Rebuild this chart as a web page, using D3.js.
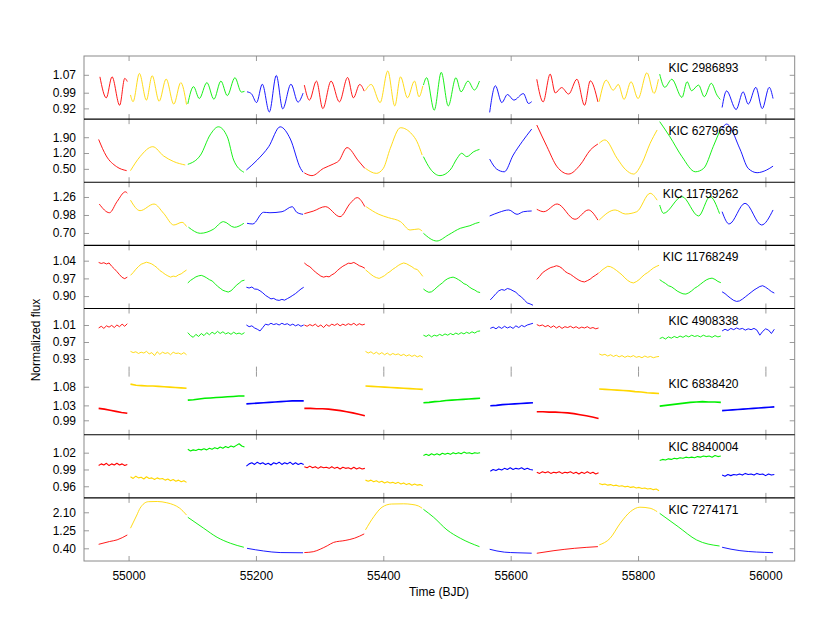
<!DOCTYPE html>
<html>
<head>
<meta charset="utf-8">
<script src="https://cdn.jsdelivr.net/npm/d3@7"></script>
<style>
  body { margin: 0; background: #fff; }
  text { font-family: "Liberation Sans", Arial, sans-serif; }
</style>
</head>
<body>
<svg id="chart" width="830" height="633"></svg>
<script>
// Kepler quarters (BJD - 2400000) and the colour used for each
var quarters = [[54953,54998],[55003,55091],[55093,55182],[55185,55275],[55276,55371],[55372,55462],
                [55463,55552],[55568,55635],[55641,55738],[55739,55833],[55834,55930],[55932,56014]];
var quarterColors = ["#ff0000","#ffd700","#00ee00","#0000ff"];

var xTicks = [55000,55200,55400,55600,55800,56000];

var starNames = ["KIC 2986893","KIC 6279696","KIC 11759262","KIC 11768249",
                 "KIC 4908338","KIC 6838420","KIC 8840004","KIC 7274171"];
var yDomains = [[0.872,1.154],[-0.093,2.70],[0.507,1.489],[0.851,1.1005],
                [0.9003,1.0488],[0.9513,1.1205],[0.9393,1.052],[-0.198,2.78]];
var yTicks = [[1.07,0.99,0.92],[1.90,1.20,0.50],[1.26,0.98,0.70],[1.04,0.97,0.90],
              [1.01,0.97,0.93],[1.08,1.03,0.99],[1.02,0.99,0.96],[2.10,1.25,0.40]];

// smooth stars: [time, flux] read at the turning points, one list per quarter
var kic2986893 = [
  [[54955,1.061],[54965,0.967],[54974,1.061],[54986,0.934],[54994,1.054],[54998,1.04]],
  [[55003,0.98],[55007,0.95],[55017,1.076],[55028,0.957],[55037,1.066],[55048,0.952],[55059,1.051],[55071,0.939],[55082,1.035],[55091,0.937]],
  [[55093,0.94],[55102,1.017],[55111,0.964],[55123,1.035],[55134,0.961],[55145,1.042],[55155,0.977],[55167,1.057],[55177,0.993],[55182,0.996]],
  [[55186,0.994],[55193,0.985],[55201,0.946],[55210,1.028],[55221,0.904],[55232,1.067],[55242,0.918],[55255,1.028],[55266,0.948],[55274,0.988]],
  [[55276,1.024],[55284,0.957],[55295,1.042],[55305,0.919],[55318,1.042],[55331,0.949],[55344,1.058],[55353,0.967],[55363,1.027],[55370,0.997]],
  [[55372,1.0],[55381,1.027],[55395,0.946],[55407,1.087],[55418,0.931],[55427,1.061],[55438,0.967],[55449,1.042],[55456,0.972],[55462,1.02]],
  [[55463,1.024],[55468,1.057],[55480,0.912],[55491,1.081],[55502,0.931],[55514,1.057],[55522,0.994],[55533,1.042],[55543,1.002],[55551,1.042]],
  [[55567,0.902],[55576,1.021],[55586,0.946],[55595,0.982],[55605,0.957],[55620,0.986],[55628,0.942],[55633,0.95]],
  [[55641,1.05],[55651,0.949],[55662,1.073],[55670,0.989],[55680,1.013],[55691,0.984],[55704,1.05],[55716,0.934],[55725,1.043],[55737,0.949]],
  [[55739,0.95],[55750,1.046],[55761,1.001],[55769,1.027],[55778,0.96],[55789,1.039],[55800,0.964],[55814,1.079],[55825,0.987],[55832,1.05]],
  [[55834,1.073],[55842,1.014],[55853,1.05],[55869,0.969],[55877,1.039],[55884,0.999],[55895,1.024],[55904,0.972],[55915,1.032],[55924,0.979],[55929,0.96]],
  [[55932,0.924],[55939,0.998],[55954,0.915],[55965,0.994],[55973,0.939],[55985,1.014],[55995,0.919],[56006,1.014],[56012,0.964]]
];
var kic6279696 = [
  [[54953,1.80],[54965,1.07],[54981,0.60],[54997,0.42]],
  [[55003,0.42],[55018,1.04],[55038,1.48],[55055,1.07],[55071,0.82],[55089,0.67]],
  [[55093,0.70],[55113,1.11],[55128,2.0],[55141,2.36],[55155,1.92],[55165,0.89],[55181,0.35]],
  [[55185,0.45],[55202,0.89],[55220,1.48],[55238,2.36],[55254,1.82],[55270,0.52],[55274,0.35]],
  [[55276,0.32],[55288,0.20],[55306,0.52],[55322,0.72],[55330,0.85],[55343,1.44],[55361,0.85],[55371,0.52]],
  [[55372,0.52],[55389,0.30],[55400,0.52],[55411,1.41],[55427,2.32],[55445,2.03],[55453,1.70],[55461,1.11]],
  [[55463,1.04],[55474,0.49],[55489,0.20],[55505,0.45],[55516,0.97],[55523,1.19],[55531,1.04],[55542,1.26],[55551,1.36]],
  [[55567,0.93],[55578,0.49],[55590,0.37],[55604,1.11],[55618,1.70],[55633,2.26]],
  [[55641,2.44],[55657,1.48],[55673,0.59],[55691,0.27],[55709,0.67],[55725,1.33],[55737,1.60]],
  [[55739,1.63],[55748,1.78],[55767,0.97],[55780,0.48],[55793,0.27],[55806,0.74],[55819,1.63],[55830,2.22]],
  [[55834,2.59],[55850,1.92],[55869,1.04],[55890,0.37],[55903,0.52],[55918,1.48],[55929,2.22]],
  [[55932,2.29],[55939,2.48],[55960,1.38],[55973,0.52],[55987,0.33],[56002,0.45],[56012,0.62]]
];
var kic11759262 = [
  [[54954,1.15],[54970,1.015],[54982,1.19],[54995,1.34],[54998,1.32]],
  [[55003,1.21],[55018,1.047],[55040,1.15],[55055,1.006],[55071,0.824],[55084,0.866],[55091,0.80]],
  [[55094,0.79],[55113,0.695],[55133,0.757],[55149,0.876],[55166,0.788],[55181,0.85]],
  [[55186,0.85],[55195,0.84],[55212,1.022],[55222,1.015],[55241,1.031],[55257,1.109],[55264,1.022],[55274,0.99]],
  [[55276,1.0],[55290,1.04],[55309,1.11],[55332,0.953],[55348,1.16],[55359,1.25],[55371,1.11]],
  [[55373,1.109],[55393,0.99],[55408,0.938],[55427,0.876],[55442,0.746],[55455,0.762],[55461,0.73]],
  [[55463,0.695],[55484,0.575],[55502,0.669],[55521,0.773],[55536,0.813],[55545,0.85],[55551,0.866]],
  [[55567,0.964],[55582,1.022],[55597,1.058],[55610,0.99],[55620,1.031],[55633,1.042]],
  [[55641,1.068],[55652,1.031],[55673,1.151],[55701,0.913],[55722,1.058],[55737,0.90]],
  [[55739,0.90],[55764,1.058],[55780,0.995],[55798,1.031],[55819,1.317],[55830,1.21]],
  [[55834,1.135],[55840,1.006],[55869,1.265],[55895,0.964],[55913,1.265],[55928,1.0]],
  [[55932,1.031],[55943,0.84],[55968,1.162],[55994,0.824],[56012,1.058]]
];
var kic7274171 = [
  [[54953,0.59],[54970,0.72],[54982,0.80],[54998,1.03]],
  [[55003,1.35],[55013,1.97],[55018,2.29],[55031,2.60],[55045,2.61],[55060,2.55],[55071,2.45],[55080,2.30],[55091,1.97]],
  [[55093,1.865],[55118,1.346],[55139,0.92],[55160,0.638],[55181,0.45]],
  [[55186,0.40],[55212,0.275],[55238,0.20],[55274,0.19]],
  [[55276,0.20],[55290,0.24],[55301,0.36],[55312,0.52],[55322,0.68],[55340,0.77],[55355,0.88],[55370,1.08]],
  [[55372,1.27],[55385,1.89],[55398,2.34],[55413,2.49],[55432,2.50],[55445,2.47],[55455,2.40],[55461,2.29]],
  [[55463,2.24],[55479,1.865],[55500,1.27],[55521,0.874],[55551,0.478]],
  [[55567,0.355],[55590,0.22],[55610,0.19],[55633,0.17]],
  [[55641,0.167],[55668,0.29],[55700,0.40],[55737,0.48]],
  [[55739,0.56],[55756,0.87],[55772,1.58],[55788,2.13],[55803,2.34],[55819,2.29],[55830,2.13]],
  [[55834,2.05],[55863,1.42],[55892,0.794],[55928,0.51]],
  [[55932,0.45],[55960,0.29],[56012,0.195]]
];

// noisy stars: flux read at even steps across each quarter
var kic11768249 = [
  [1.033,1.029,1.032,1.027,1.031,1.018,1.008,0.997,0.985,0.974,0.969,0.975],
  [0.982,0.993,1.006,1.017,1.026,1.030,1.034,1.031,1.027,1.020,1.012,1.001,0.994,0.986,0.980,0.975,0.979,0.977,0.984,0.988,0.996,1.003],
  [0.952,0.962,0.969,0.976,0.980,0.982,0.978,0.972,0.965,0.960,0.950,0.939,0.931,0.923,0.919,0.916,0.921,0.931,0.943,0.951,0.960,0.963],
  [0.935,0.932,0.936,0.928,0.927,0.921,0.913,0.903,0.896,0.889,0.891,0.885,0.883,0.887,0.884,0.890,0.896,0.903,0.910,0.919,0.928,0.935],
  [1.031,1.022,1.016,1.006,0.995,0.987,0.979,0.975,0.978,0.976,0.984,0.990,1.001,1.010,1.018,1.024,1.030,1.029,1.033,1.027,1.020,1.016,1.010],
  [1.004,0.995,0.986,0.978,0.973,0.970,0.975,0.981,0.990,0.997,1.006,1.013,1.021,1.027,1.031,1.028,1.022,1.016,1.008,1.005,0.992,0.978],
  [0.928,0.920,0.915,0.917,0.925,0.935,0.944,0.952,0.962,0.969,0.973,0.975,0.971,0.965,0.958,0.949,0.945,0.936,0.929,0.924,0.917,0.914],
  [0.885,0.897,0.910,0.921,0.926,0.923,0.930,0.927,0.921,0.915,0.904,0.896,0.884,0.873,0.869,0.864],
  [0.966,0.978,0.992,1.000,1.007,1.013,1.016,1.020,1.017,1.010,0.998,0.991,0.986,0.978,0.970,0.963,0.958,0.956,0.961,0.967,0.976,0.983,0.991],
  [0.992,1.003,1.011,1.018,1.016,1.010,1.002,0.993,0.984,0.972,0.962,0.955,0.952,0.957,0.965,0.976,0.986,0.993,1.002,1.011,1.017,1.022],
  [0.965,0.957,0.950,0.941,0.937,0.929,0.920,0.914,0.909,0.908,0.913,0.921,0.931,0.938,0.947,0.956,0.964,0.969,0.971,0.966,0.958,0.953],
  [0.917,0.910,0.900,0.891,0.883,0.879,0.881,0.888,0.897,0.906,0.915,0.924,0.931,0.938,0.941,0.935,0.927,0.918,0.912]
];
var kic4908338 = [
  [1.003,1.007,1.002,1.008,1.005,1.009,1.004,1.010,1.006,1.012,1.007,1.013],
  [0.948,0.945,0.947,0.943,0.946,0.944,0.948,0.942,0.945,0.938,0.947,0.941,0.946,0.943,0.945,0.940,0.946,0.943,0.944,0.941,0.945,0.940],
  [0.992,0.985,0.981,0.988,0.983,0.990,0.985,0.992,0.987,0.993,0.989,0.995,0.990,0.994,0.989,0.992,0.988,0.993,0.989,0.991,0.988,0.992],
  [1.010,1.006,1.008,1.003,1.000,0.996,1.004,1.012,1.010,1.014,1.011,1.013,1.010,1.014,1.011,1.013,1.009,1.012,1.008,1.011,1.007,1.010],
  [1.010,1.007,1.011,1.008,1.012,1.006,1.010,1.004,1.011,1.007,1.012,1.009,1.013,1.008,1.012,1.009,1.013,1.010,1.014,1.009,1.013,1.010,1.012],
  [0.948,0.944,0.947,0.942,0.946,0.941,0.945,0.940,0.944,0.939,0.943,0.940,0.942,0.938,0.941,0.937,0.940,0.936,0.939,0.935,0.938,0.934],
  [0.986,0.983,0.987,0.982,0.986,0.984,0.988,0.985,0.989,0.986,0.990,0.987,0.991,0.988,0.992,0.989,0.993,0.990,0.994,0.991,0.995,0.996],
  [1.002,1.005,1.001,1.006,1.002,1.007,1.003,1.006,1.002,1.008,1.004,1.009,1.006,1.010,1.012,1.014],
  [1.011,1.008,1.010,1.006,1.009,1.004,1.008,1.003,1.007,1.002,1.006,1.004,1.007,1.003,1.006,1.002,1.005,1.003,1.006,1.002,1.004,1.001,1.003],
  [0.942,0.939,0.941,0.937,0.940,0.936,0.939,0.935,0.938,0.934,0.937,0.935,0.938,0.934,0.936,0.933,0.937,0.934,0.936,0.933,0.935,0.936],
  [0.978,0.981,0.977,0.982,0.979,0.983,0.980,0.984,0.981,0.985,0.982,0.986,0.983,0.985,0.982,0.986,0.983,0.984,0.981,0.985,0.982,0.984],
  [0.996,1.000,0.997,1.002,0.999,1.003,1.000,1.002,0.998,1.001,0.999,1.002,0.998,0.986,0.995,1.001,0.998,0.990,1.000]
];
var kic6838420 = [
  [1.022,1.020,1.017,1.014,1.011,1.009],
  [1.087,1.084,1.083,1.082,1.082,1.081,1.080,1.079,1.078,1.077,1.076],
  [1.044,1.045,1.047,1.049,1.050,1.051,1.052,1.053,1.054,1.055,1.055],
  [1.034,1.035,1.036,1.037,1.038,1.039,1.040,1.041,1.042,1.042,1.042],
  [1.022,1.022,1.021,1.021,1.020,1.018,1.016,1.013,1.010,1.006,1.002],
  [1.082,1.081,1.080,1.079,1.078,1.077,1.076,1.075,1.074,1.073],
  [1.037,1.038,1.040,1.041,1.043,1.044,1.045,1.046,1.047,1.048,1.049],
  [1.029,1.030,1.032,1.033,1.034,1.035,1.036,1.037],
  [1.013,1.013,1.012,1.012,1.011,1.010,1.008,1.005,1.002,0.999,0.995],
  [1.074,1.073,1.072,1.071,1.070,1.069,1.067,1.066,1.064,1.063,1.062],
  [1.028,1.030,1.032,1.034,1.036,1.038,1.039,1.040,1.039,1.039,1.038],
  [1.016,1.017,1.018,1.019,1.020,1.021,1.022,1.023,1.024,1.025,1.026]
];
var kic8840004 = [
  [0.997,1.000,0.998,1.001,0.997,1.000,0.998,1.001,0.998,1.000,0.997,0.999],
  [0.977,0.974,0.978,0.975,0.976,0.973,0.977,0.974,0.975,0.972,0.975,0.973,0.974,0.971,0.973,0.970,0.972,0.969,0.971,0.968,0.970,0.967],
  [1.026,1.023,1.025,1.024,1.026,1.025,1.027,1.025,1.028,1.026,1.029,1.027,1.030,1.028,1.031,1.029,1.032,1.030,1.033,1.036,1.032,1.030],
  [0.996,1.000,1.002,0.999,1.003,1.000,1.002,0.999,1.001,0.998,1.002,1.000,1.003,0.999,1.002,1.000,1.003,0.999,1.002,0.999,1.001,0.999],
  [0.995,0.993,0.996,0.993,0.995,0.992,0.995,0.993,0.994,0.992,0.995,0.992,0.994,0.991,0.994,0.992,0.993,0.991,0.994,0.991,0.993,0.991,0.992],
  [0.971,0.969,0.971,0.968,0.970,0.967,0.969,0.966,0.968,0.966,0.967,0.965,0.967,0.964,0.966,0.963,0.965,0.962,0.964,0.962,0.963,0.961],
  [1.015,1.017,1.015,1.018,1.016,1.018,1.016,1.019,1.017,1.019,1.017,1.020,1.018,1.020,1.018,1.021,1.019,1.020,1.018,1.020,1.019,1.020],
  [0.987,0.990,0.988,0.991,0.989,0.992,0.990,0.993,0.990,0.992,0.991,0.993,0.990,0.992,0.990,0.989],
  [0.985,0.983,0.986,0.984,0.986,0.983,0.985,0.984,0.986,0.983,0.985,0.984,0.986,0.983,0.985,0.982,0.985,0.983,0.986,0.983,0.985,0.982,0.984],
  [0.965,0.963,0.964,0.962,0.963,0.961,0.962,0.960,0.961,0.959,0.960,0.958,0.959,0.957,0.958,0.956,0.957,0.955,0.956,0.954,0.955,0.952],
  [1.006,1.008,1.007,1.009,1.008,1.010,1.009,1.011,1.010,1.012,1.011,1.012,1.011,1.013,1.012,1.014,1.013,1.014,1.012,1.015,1.013,1.014],
  [0.980,0.978,0.981,0.979,0.981,0.980,0.982,0.980,0.983,0.981,0.982,0.980,0.983,0.981,0.982,0.979,0.982,0.980,0.981]
];

var starData = [kic2986893, kic6279696, kic11759262, kic11768249, kic4908338, kic6838420, kic8840004, kic7274171];
var lineWidths = [0.9, 0.9, 0.9, 0.9, 0.9, 1.6, 1.1, 0.9];

var svg = d3.select("#chart");
var left = 84, right = 794.7, top0 = 56, bottom = 561;
var panelH = (bottom - top0) / starNames.length;

var x = d3.scaleLinear().domain([54930, 56046]).range([left, right]);

// turn one quarter of data into [t, f] pairs
function quarterPoints(q, k) {
  if (Array.isArray(q[0])) return q;
  var t0 = quarters[k][0], t1 = quarters[k][1];
  return q.map(function(v, i) { return [t0 + i * (t1 - t0) / (q.length - 1), v]; });
}

function styleAxis(g) {
  g.select(".domain").remove();
  g.selectAll(".tick line").attr("stroke", "#9a9a9a");
  g.selectAll(".tick text").attr("fill", "#000").style("font-size", "12px")
    .style("font-family", '"Liberation Sans", Arial, sans-serif');
}

starNames.forEach(function(name, i) {
  var top = top0 + i * panelH;
  var y = d3.scaleLinear().domain(yDomains[i]).range([top + panelH, top]);
  var smooth = Array.isArray(starData[i][0][0]);
  var line = d3.line()
    .x(function(d) { return x(d[0]); })
    .y(function(d) { return y(d[1]); })
    .curve(smooth ? d3.curveMonotoneX : d3.curveLinear);

  svg.append("g").attr("transform", "translate(" + left + ",0)")
    .call(d3.axisLeft(y).tickValues(yTicks[i]).tickFormat(d3.format(".2f")).tickSize(-5).tickPadding(8))
    .call(styleAxis);
  svg.append("g").attr("transform", "translate(" + right + ",0)")
    .call(d3.axisRight(y).tickValues(yTicks[i]).tickFormat("").tickSize(-5))
    .call(styleAxis);
  svg.append("g").attr("transform", "translate(0," + top + ")")
    .call(d3.axisTop(x).tickValues(xTicks).tickFormat("").tickSize(-5))
    .call(styleAxis);
  svg.append("g").attr("transform", "translate(0," + (top + panelH) + ")")
    .call(d3.axisBottom(x).tickValues(xTicks).tickSize(-5).tickPadding(10)
      .tickFormat(i === starNames.length - 1 ? d3.format("d") : ""))
    .call(styleAxis);

  starData[i].forEach(function(q, k) {
    svg.append("path")
      .datum(quarterPoints(q, k))
      .attr("fill", "none")
      .attr("stroke", quarterColors[k % 4])
      .attr("stroke-width", lineWidths[i])
      .attr("stroke-linejoin", "round")
      .attr("d", line);
  });

  svg.append("text")
    .attr("x", 738.5).attr("y", top + 16)
    .attr("text-anchor", "end")
    .style("font-size", "12px")
    .text(name);
});

// frame and panel separators (none between KIC 4908338 and KIC 6838420)
svg.append("rect")
  .attr("x", left).attr("y", top0)
  .attr("width", right - left).attr("height", bottom - top0)
  .attr("fill", "none").attr("stroke", "#8a8a8a").attr("stroke-width", 1);

d3.range(1, starNames.length).filter(function(i) { return i !== 5; }).forEach(function(i) {
  svg.append("line")
    .attr("x1", left).attr("x2", right)
    .attr("y1", top0 + i * panelH).attr("y2", top0 + i * panelH)
    .attr("stroke", "#000").attr("stroke-width", 1.2);
});

svg.append("text")
  .attr("x", 439).attr("y", 596)
  .attr("text-anchor", "middle")
  .style("font-size", "12px")
  .text("Time (BJD)");

svg.append("text")
  .attr("transform", "translate(40,340) rotate(-90)")
  .attr("text-anchor", "middle")
  .style("font-size", "12px")
  .text("Normalized flux");
</script>
</body>
</html>
